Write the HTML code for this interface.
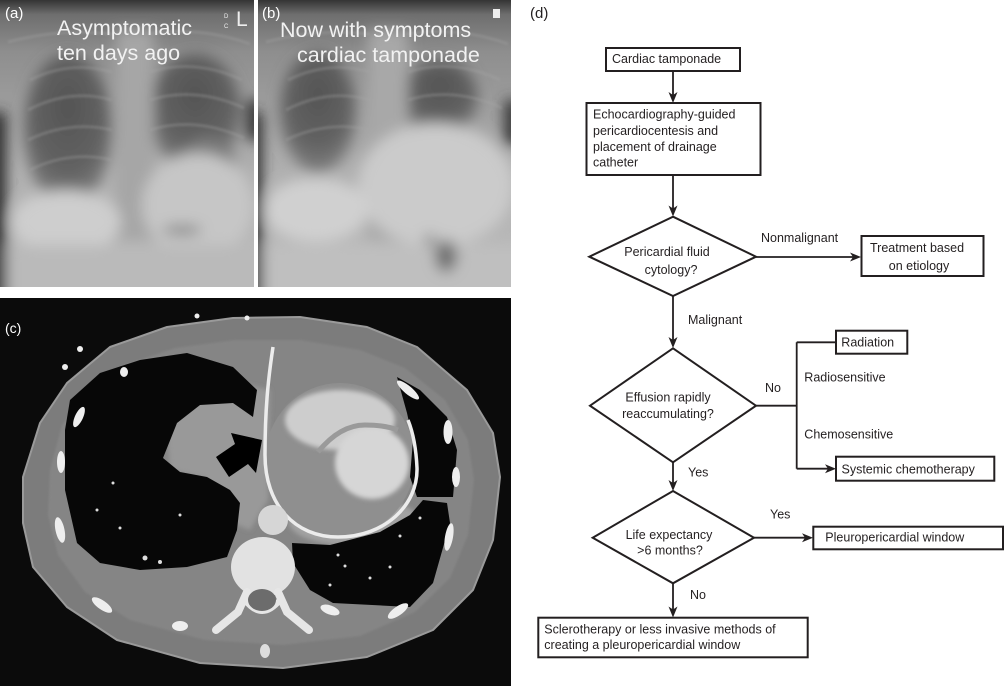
<!DOCTYPE html>
<html><head><meta charset="utf-8"><style>
html,body{margin:0;padding:0;background:#fff;}
svg{display:block;}
</style></head><body>
<svg width="1004" height="686" viewBox="0 0 1004 686" xmlns="http://www.w3.org/2000/svg" font-family="'Liberation Sans', Arial, sans-serif">
<defs>
<filter id="bl" x="-30%" y="-30%" width="160%" height="160%"><feGaussianBlur stdDeviation="7"/></filter>
<filter id="bs" x="-30%" y="-30%" width="160%" height="160%"><feGaussianBlur stdDeviation="2.5"/></filter>
<filter id="bt" x="-30%" y="-30%" width="160%" height="160%"><feGaussianBlur stdDeviation="1"/></filter>
<linearGradient id="xg" x1="0" y1="0" x2="0" y2="1">
<stop offset="0" stop-color="#343434"/>
<stop offset="0.05" stop-color="#6e6e6e"/>
<stop offset="0.18" stop-color="#8e8e8e"/>
<stop offset="0.6" stop-color="#b0b0b0"/>
<stop offset="1" stop-color="#bcbcbc"/>
</linearGradient>
<radialGradient id="lung" cx="0.5" cy="0.35" r="0.6">
<stop offset="0" stop-color="#545454"/>
<stop offset="0.7" stop-color="#626262"/>
<stop offset="1" stop-color="#7a7a7a"/>
</radialGradient>
<clipPath id="ca"><rect x="0" y="0" width="254" height="287"/></clipPath>
<clipPath id="cb"><rect x="258" y="0" width="253" height="287"/></clipPath>
<clipPath id="cc"><rect x="0" y="298" width="511" height="388"/></clipPath>
</defs>
<rect width="1004" height="686" fill="#fff"/>

<!-- Panel (a) -->
<g clip-path="url(#ca)">
<rect x="0" y="0" width="254" height="287" fill="url(#xg)"/>
<g filter="url(#bl)">
<ellipse cx="68" cy="130" rx="44" ry="76" fill="url(#lung)"/>
<ellipse cx="195" cy="112" rx="46" ry="58" fill="url(#lung)"/>
<ellipse cx="208" cy="165" rx="28" ry="28" fill="#7c7c7c"/>
<rect x="116" y="30" width="38" height="210" fill="#a6a6a6"/>
<ellipse cx="66" cy="222" rx="55" ry="32" fill="#cecece"/>
<ellipse cx="198" cy="205" rx="56" ry="52" fill="#c6c6c6"/>
<rect x="-30" y="245" width="320" height="60" fill="#bababa"/>
<ellipse cx="182" cy="230" rx="20" ry="5" fill="#888"/>
<rect x="-14" y="112" width="20" height="200" fill="#2e2e2e"/>
<rect x="246" y="100" width="20" height="40" fill="#3a3a3a"/>
</g>
<g fill="none" stroke="#a8a8a8" stroke-width="3" opacity="0.3" filter="url(#bt)">
<path d="M8,42 Q60,28 112,34"/><path d="M148,34 Q200,26 250,44"/>
<path d="M30,80 Q70,60 112,72"/><path d="M28,110 Q70,88 112,100"/><path d="M28,140 Q70,120 112,130"/><path d="M30,170 Q70,150 112,160"/>
<path d="M150,72 Q195,58 242,80"/><path d="M150,100 Q195,86 244,108"/><path d="M150,130 Q195,116 244,138"/>
</g>
<text x="5" y="18" font-size="15" fill="#fff">(a)</text>
<text x="57" y="35" font-size="21.5" fill="#f2f2f2">Asymptomatic</text>
<text x="57" y="60" font-size="21.5" fill="#f2f2f2">ten days ago</text>
<text x="224" y="18" font-size="6" fill="#eee">D</text>
<text x="224" y="28" font-size="6" fill="#eee">C</text>
<text x="236" y="26" font-size="21" fill="#eee">L</text>
</g>

<!-- Panel (b) -->
<g clip-path="url(#cb)">
<rect x="258" y="0" width="253" height="287" fill="url(#xg)"/>
<g filter="url(#bl)" transform="translate(258,0)">
<ellipse cx="60" cy="112" rx="38" ry="60" fill="url(#lung)"/>
<ellipse cx="182" cy="98" rx="38" ry="38" fill="url(#lung)"/>
<rect x="110" y="30" width="40" height="210" fill="#a8a8a8"/>
<ellipse cx="178" cy="185" rx="78" ry="62" fill="#cbcbcb"/>
<ellipse cx="58" cy="210" rx="52" ry="32" fill="#d0d0d0"/>
<rect x="-30" y="245" width="320" height="60" fill="#bfbfbf"/>
<ellipse cx="188" cy="256" rx="11" ry="16" fill="#6e6e6e"/>
<ellipse cx="172" cy="240" rx="6" ry="6" fill="#8a8a8a"/>
<rect x="-14" y="112" width="18" height="200" fill="#2e2e2e"/>
<rect x="246" y="100" width="20" height="45" fill="#3a3a3a"/>
</g>
<g fill="none" stroke="#a8a8a8" stroke-width="3" opacity="0.3" filter="url(#bt)" transform="translate(258,0)">
<path d="M8,42 Q60,28 112,34"/><path d="M148,34 Q200,26 250,44"/>
<path d="M30,80 Q70,60 112,72"/><path d="M28,110 Q70,88 112,100"/><path d="M28,140 Q70,120 112,130"/>
<path d="M150,72 Q195,58 242,80"/><path d="M150,100 Q195,86 244,108"/>
</g>
<text x="262" y="18" font-size="15" fill="#fff">(b)</text>
<text x="280" y="37" font-size="21.5" fill="#f2f2f2">Now with symptoms</text>
<text x="297" y="62" font-size="21.5" fill="#f2f2f2">cardiac tamponade</text>
<rect x="493" y="9" width="7" height="9" fill="#eee"/>
</g>

<!-- Panel (c) CT -->
<g clip-path="url(#cc)">
<rect x="0" y="298" width="511" height="388" fill="#0b0b0b"/>
<path d="M23,477 L40,423 L67,383 L110,347 L167,327 L233,318 L300,317 L367,327 L417,347 L467,390 L493,433 L500,477 L493,540 L473,590 L433,630 L367,657 L283,668 L200,663 L117,640 L67,607 L33,567 L23,523 Z" fill="#7c7c7c" stroke="#9a9a9a" stroke-width="2" stroke-linejoin="round"/>
<path d="M50,470 L62,425 L88,392 L125,365 L175,348 L235,340 L300,340 L360,350 L405,368 L445,400 L468,440 L474,480 L468,535 L450,578 L415,612 L360,636 L283,645 L205,640 L130,620 L85,592 L58,555 L48,515 Z" fill="#858585" filter="url(#bt)"/>
<path d="M165,410 L200,395 L245,385 L270,390 L268,500 L250,530 L225,520 L205,478 L170,470 Z" fill="#999" filter="url(#bs)"/>
<ellipse cx="355" cy="522" rx="66" ry="24" fill="#a2a2a2" filter="url(#bs)"/>
<ellipse cx="340" cy="460" rx="75" ry="77" fill="#8f8f8f"/>
<ellipse cx="340" cy="420" rx="55" ry="30" fill="#cdcdcd" filter="url(#bs)"/>
<ellipse cx="372" cy="463" rx="37" ry="36" fill="#d6d6d6" filter="url(#bs)"/>
<path d="M318,452 Q340,425 365,425 Q385,425 398,430" fill="none" stroke="#9a9a9a" stroke-width="5"/>
<path d="M70,400 L100,373 L140,360 L187,353 L233,367 L257,390 L253,417 L233,403 L200,405 L177,423 L163,458 L180,472 L207,477 L230,490 L240,503 L237,530 L227,557 L187,567 L140,570 L100,563 L77,543 L65,490 L65,430 Z" fill="#070707"/>
<path d="M397,377 L420,390 L447,417 L457,450 L453,497 L417,497 L410,477 L413,440 L407,413 Z" fill="#070707"/>
<path d="M423,500 L447,503 L450,523 L433,583 L410,607 L333,603 L310,590 L293,563 L292,543 L330,545 L380,532 L410,515 Z" fill="#070707"/>
<g fill="#ddd">
<circle cx="113" cy="483" r="1.5"/><circle cx="97" cy="510" r="1.5"/><circle cx="120" cy="528" r="1.5"/><circle cx="180" cy="515" r="1.5"/><circle cx="145" cy="558" r="2.5"/><circle cx="160" cy="562" r="2"/>
<circle cx="420" cy="518" r="1.5"/><circle cx="400" cy="536" r="1.5"/><circle cx="390" cy="567" r="1.5"/><circle cx="370" cy="578" r="1.5"/><circle cx="345" cy="566" r="1.5"/><circle cx="330" cy="585" r="1.5"/><circle cx="338" cy="555" r="1.5"/>
</g>
<path d="M273,347 C268,380 265,410 265,455 C265,505 295,537 338,537 C385,537 418,505 417,468 C416,445 412,430 408,420" fill="none" stroke="#ececec" stroke-width="3.5"/>
<polygon points="231,433 262,440 256,473 248,464 229,477 216,457 235,444" fill="#000"/>
<circle cx="273" cy="520" r="15" fill="#d6d6d6"/>
<ellipse cx="263" cy="567" rx="32" ry="30" fill="#e2e2e2"/>
<path d="M216,630 L238,612 L247,592 M278,592 L287,612 L309,630" fill="none" stroke="#e6e6e6" stroke-width="8" stroke-linecap="round"/>
<path d="M245,600 Q262,622 280,600" fill="none" stroke="#e6e6e6" stroke-width="6"/>
<ellipse cx="262" cy="600" rx="14" ry="11" fill="#6c6c6c"/>
<ellipse cx="265" cy="651" rx="5" ry="7" fill="#ddd"/>
<g fill="#eee">
<ellipse cx="79" cy="417" rx="4" ry="11" transform="rotate(25 79 417)"/>
<ellipse cx="61" cy="462" rx="4" ry="11"/>
<ellipse cx="60" cy="530" rx="4.5" ry="13" transform="rotate(-12 60 530)"/>
<ellipse cx="102" cy="605" rx="12" ry="4.5" transform="rotate(35 102 605)"/>
<ellipse cx="180" cy="626" rx="8" ry="5"/>
<ellipse cx="448" cy="432" rx="4.5" ry="12"/>
<ellipse cx="456" cy="477" rx="4" ry="10"/>
<ellipse cx="449" cy="537" rx="4" ry="14" transform="rotate(10 449 537)"/>
<ellipse cx="398" cy="611" rx="12" ry="4.5" transform="rotate(-35 398 611)"/>
<ellipse cx="330" cy="610" rx="10" ry="4.5" transform="rotate(20 330 610)"/>
<ellipse cx="408" cy="390" rx="4" ry="14" transform="rotate(-50 408 390)"/>
<ellipse cx="124" cy="372" rx="4" ry="5"/>
<circle cx="197" cy="316" r="2.5"/><circle cx="247" cy="318" r="2.5"/><circle cx="80" cy="349" r="3"/><circle cx="65" cy="367" r="3"/>
</g>
<text x="5" y="333" font-size="14" fill="#fff">(c)</text>
</g>

<!-- Panel (d) flowchart -->
<g font-size="12.5" fill="#231f20">
<text x="530" y="18" font-size="15">(d)</text>

<g fill="#fff" stroke="#231f20" stroke-width="2">
<rect x="606" y="48" width="134" height="23"/>
<rect x="586.5" y="103" width="174" height="72"/>
<polygon points="673,216.7 756,256.7 673,296 589.3,256.7"/>
<rect x="861.5" y="236" width="122" height="40"/>
<polygon points="673,348.3 756,405.7 673,462.3 590,405.7"/>
<rect x="836" y="330.7" width="71.3" height="23"/>
<rect x="836" y="456.7" width="158.3" height="24"/>
<polygon points="673,491 754,537.7 673,583.3 592.7,537.7"/>
<rect x="813.3" y="526.7" width="189.7" height="22.6"/>
<rect x="538.3" y="617.7" width="269.4" height="39.6"/>
</g>

<g stroke="#231f20" stroke-width="1.8" fill="none">
<line x1="673" y1="71" x2="673" y2="96"/>
<line x1="673" y1="175" x2="673" y2="209"/>
<line x1="756" y1="257" x2="854" y2="257"/>
<line x1="673" y1="296" x2="673" y2="341"/>
<line x1="756" y1="405.7" x2="796.7" y2="405.7"/>
<line x1="796.7" y1="342.3" x2="796.7" y2="468.7"/>
<line x1="796.7" y1="342.3" x2="836" y2="342.3"/>
<line x1="796.7" y1="468.7" x2="829" y2="468.7"/>
<line x1="673" y1="462.3" x2="673" y2="484"/>
<line x1="754" y1="537.7" x2="806" y2="537.7"/>
<line x1="673" y1="583.3" x2="673" y2="610"/>
</g>
<g fill="#231f20">
<path d="M673,103 L668.5,92 L673,95 L677.5,92 Z"/>
<path d="M673,216.5 L668.5,205.5 L673,208.5 L677.5,205.5 Z"/>
<path d="M861,257 L850,252.5 L853,257 L850,261.5 Z"/>
<path d="M673,348 L668.5,337 L673,340 L677.5,337 Z"/>
<path d="M836,468.7 L825,464.2 L828,468.7 L825,473.2 Z"/>
<path d="M673,491 L668.5,480 L673,483 L677.5,480 Z"/>
<path d="M813,537.7 L802,533.2 L805,537.7 L802,542.2 Z"/>
<path d="M673,617.5 L668.5,606.5 L673,609.5 L677.5,606.5 Z"/>
</g>

<text x="612" y="63">Cardiac tamponade</text>
<text x="593" y="118.5">Echocardiography-guided</text>
<text x="593" y="135">pericardiocentesis and</text>
<text x="593" y="151">placement of drainage</text>
<text x="593" y="166.5">catheter</text>
<text x="667" y="256" text-anchor="middle">Pericardial fluid</text>
<text x="671" y="274" text-anchor="middle">cytology?</text>
<text x="761" y="242">Nonmalignant</text>
<text x="917" y="252" text-anchor="middle">Treatment based</text>
<text x="919" y="270" text-anchor="middle">on etiology</text>
<text x="688" y="324">Malignant</text>
<text x="668" y="401.7" text-anchor="middle">Effusion rapidly</text>
<text x="668" y="418" text-anchor="middle">reaccumulating?</text>
<text x="765" y="392">No</text>
<text x="841.3" y="346.3">Radiation</text>
<text x="804.3" y="381.3">Radiosensitive</text>
<text x="804.3" y="438.3">Chemosensitive</text>
<text x="841.5" y="473.3">Systemic chemotherapy</text>
<text x="688" y="476.7">Yes</text>
<text x="669" y="539" text-anchor="middle">Life expectancy</text>
<text x="670" y="554.7" text-anchor="middle">&gt;6 months?</text>
<text x="770" y="518.3">Yes</text>
<text x="825.3" y="541.7">Pleuropericardial window</text>
<text x="690" y="599">No</text>
<text x="544.3" y="633.3">Sclerotherapy or less invasive methods of</text>
<text x="544.3" y="649">creating a pleuropericardial window</text>
</g>
</svg>
</body></html>
